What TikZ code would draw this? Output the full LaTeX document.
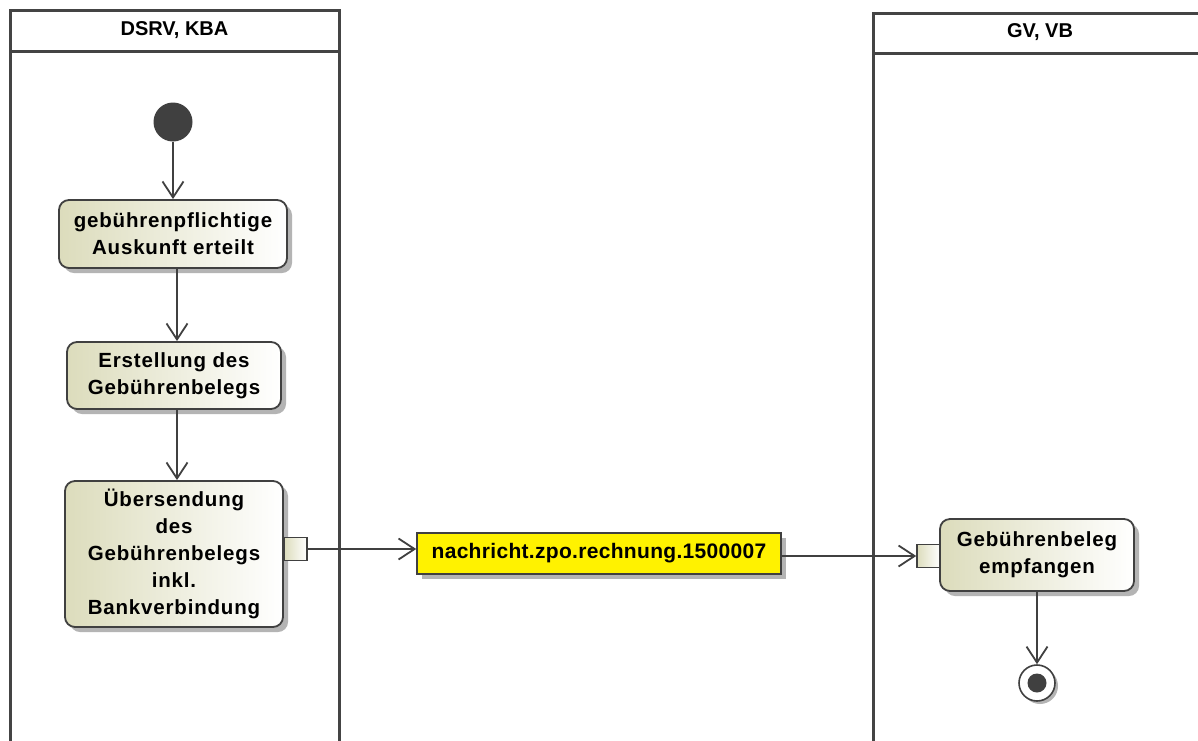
\documentclass[tikz,border=0pt]{standalone}
\usepackage{fontspec}
\setmainfont{Liberation Sans}
\newfontfamily\boxfont[LetterSpace=4]{Liberation Sans}
\newfontfamily\objfont[LetterSpace=1.5]{Liberation Sans}
\usetikzlibrary{arrows.meta,shadows,calc}
\definecolor{lanec}{HTML}{444444}
\definecolor{edgec}{HTML}{404040}
\definecolor{actfill}{HTML}{DCDCBC}
\definecolor{shadec}{HTML}{B4B4B4}
\definecolor{dotc}{HTML}{404040}
\tikzset{
 act/.style={draw=edgec, line width=1.8pt, rounded corners=10pt, left color=actfill, right color=white,
   drop shadow={shadow xshift=5pt, shadow yshift=-5pt, fill=shadec, opacity=1},
   align=center, font=\boxfont\bfseries\fontsize{20.5}{27}\selectfont, inner sep=0pt},
 pinbox/.style={draw=edgec, line width=1.6pt, left color=actfill, right color=white, minimum size=23pt, inner sep=0pt},
 objbox/.style={draw=edgec, line width=1.6pt, fill=yellow,
   drop shadow={shadow xshift=5pt, shadow yshift=-5pt, fill=shadec, opacity=1},
   font=\objfont\bfseries\fontsize{21}{24}\selectfont, inner sep=0pt},
 arr/.style={draw=edgec, line width=1.8pt, -{Straight Barb[length=16pt,width=21pt]}},
 lanebox/.style={draw=lanec, line width=3pt},
 lanehead/.style={font=\bfseries\fontsize{20}{22}\selectfont, inner sep=0pt},
}
\begin{document}
\begin{tikzpicture}[x=1pt,y=-1pt]
\useasboundingbox (0,0) rectangle (1198,740);
\clip (0,0) rectangle (1198,740);
\fill[white] (0,0) rectangle (1198,740);
% lanes
\draw[lanebox] (10,10) rectangle (339,760);
\draw[lanebox] (10,51) -- (339,51);
\node[lanehead] (h1) at (174.5,30) {DSRV, KBA};
\draw[lanebox] (873,13) rectangle (1210,760);
\draw[lanebox] (873,53) -- (1210,53);
\node[lanehead] (h2) at (1040,32.5) {GV, VB};
% start
\node[circle, fill=dotc, minimum size=39pt, inner sep=0pt] (start) at (173,122) {};
% activities
\node[act, minimum width=228pt, minimum height=68pt] (b1) at (173,234) {\raisebox{-3pt}{gebührenpflichtige}\\\raisebox{-3pt}{Auskunft erteilt}};
\node[act, minimum width=214pt, minimum height=67pt] (b2) at (174,375.5) {\raisebox{-2pt}{Erstellung des}\\\raisebox{-2pt}{Gebührenbelegs}};
\node[act, minimum width=218pt, minimum height=146pt] (b3) at (174,554) {Übersendung\\des\\Gebührenbelegs\\inkl.\\Bankverbindung};
\node[pinbox] (p1) at (295.5,549) {};
\node[objbox, minimum width=364pt, minimum height=41pt] (obj) at (599,553.5) {nachricht.zpo.rechnung.1500007};
\node[act, minimum width=194pt, minimum height=72pt] (b4) at (1037,555) {Gebührenbeleg\\empfangen};
\node[pinbox] (p2) at (928.5,556) {};
% end
\node[circle, draw=edgec, line width=1.6pt, fill=white, minimum size=36pt, inner sep=0pt,
  drop shadow={shadow xshift=3pt, shadow yshift=-3pt, fill=shadec, opacity=1}] (fin) at (1037,683) {};
\node[circle, fill=dotc, minimum size=19pt, inner sep=0pt] (finin) at (fin) {};
% connectors
\draw[arr] (start.south) -- (b1.north);
\draw[arr] ([xshift=4pt]b1.south) -- ([xshift=3pt]b2.north);
\draw[arr] ([xshift=3pt]b2.south) -- ([xshift=3pt]b3.north);
\draw[arr] (p1.east) -- (p1.east -| obj.west);
\draw[arr] (obj.east |- p2.west) -- (p2.west);
\draw[arr] (b4.south) -- (fin.north);
\end{tikzpicture}
\end{document}
